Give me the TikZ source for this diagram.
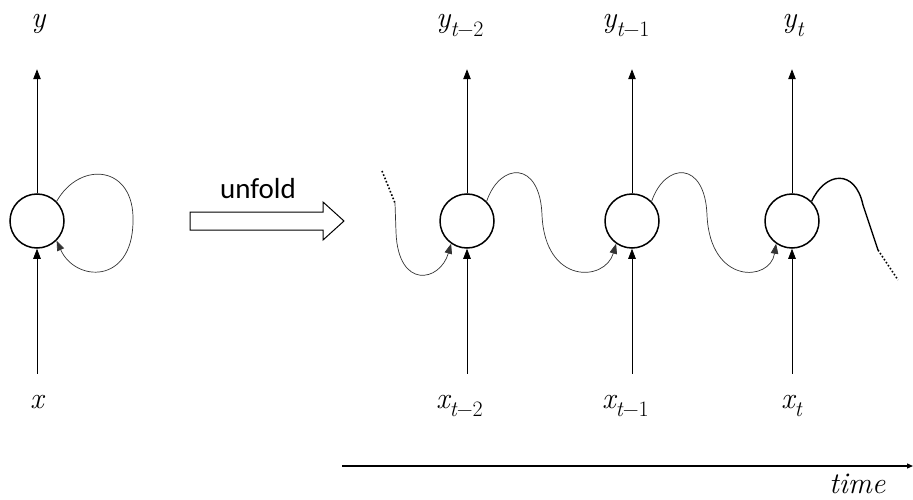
\documentclass[tikz,border=0pt]{standalone}
\usepackage{fontspec}
\newfontfamily\uifont{Carlito}
\usetikzlibrary{arrows.meta}
\newcommand\sbs[1]{\raisebox{-0.28em}{\fontsize{22}{24}\selectfont #1}}
\begin{document}
\begin{tikzpicture}[x=1pt,y=-1pt,
  cell/.style={circle,draw,line width=1.5pt,minimum size=54pt,inner sep=0pt},
  lbl/.style={font=\fontsize{30}{32}\selectfont\itshape,inner sep=0pt,anchor=base west},
  tip/.style={-{Triangle[length=10pt,width=7.5pt]}},
  wire/.style={line width=0.8pt,tip},
  wave/.style={line width=0.7pt,draw=black!80,tip}]
\useasboundingbox (0,0) rectangle (913,500);
% cells
\node[cell] (c0) at (37,221) {};
\node[cell] (c1) at (467,221) {};
\node[cell] (c2) at (632,221) {};
\node[cell] (c3) at (792,221) {};
% labels
\node[lbl] (y0) at (31,28) {y};
\node[lbl] (y1) at (436,28) {y\sbs{t\upshape −2}};
\node[lbl] (y2) at (602,28) {y\sbs{t\upshape −1}};
\node[lbl] (y3) at (782,28) {y\sbs{t}};
\node[lbl] (x0) at (30,408) {x};
\node[lbl] (x1) at (436,408) {x\sbs{t\upshape −2}};
\node[lbl] (x2) at (602,408) {x\sbs{t\upshape −1}};
\node[lbl] (x3) at (781,408) {x\sbs{t}};
% vertical arrows
\foreach \i in {0,1,2,3}{
  \coordinate (t\i) at ([yshift=124pt]c\i.north);
  \coordinate (b\i) at ([yshift=-125pt]c\i.south);
  \draw[wire] (c\i.north) -- (t\i);
  \draw[wire] (b\i) -- (c\i.south);
}
% self loop
\draw[wave] (c0.45) .. controls (80,160) and (135,165) .. (133,222)
  .. controls (132,285) and (75,282) .. (c0.-45);
% unfold arrow
\draw[line width=1pt] (190,212) -- (323,212) -- (323,202) -- (344,221) -- (323,240) -- (323,230) -- (190,230) -- cycle;
\node[font=\uifont\fontsize{29}{30}\selectfont,inner sep=0pt,anchor=base] (unf) at (258,198) {unfold};
% incoming wave
\coordinate (d0) at (382,171);
\coordinate (d1) at (395,203);
\draw[line width=1.6pt,dotted] (d0) -- (d1);
\draw[wave] (d1) -- (396,232) .. controls (398,290) and (440,282) .. (c1.-125);
% waves between cells
\draw[wave] (c1.45) .. controls (500,162) and (540,160) .. (542,215)
  .. controls (545,285) and (605,282) .. (c2.-125);
\draw[wave] (c2.45) .. controls (665,162) and (705,160) .. (707,215)
  .. controls (710,285) and (770,282) .. (c3.-125);
% outgoing wave
\coordinate (e1) at (878,250);
\coordinate (e2) at (898,280);
\draw[line width=1.4pt] (c3.45) .. controls (825,172) and (855,168) .. (863,205) -- (e1);
\draw[line width=1.6pt,dotted] (e1) -- (e2);
% time axis
\coordinate (ta) at (342,466);
\coordinate (tb) at (913,466);
\draw[line width=1.2pt,-{Triangle[length=6pt,width=5pt]}] (ta) -- (tb);
\node[lbl] (time) at (829,493) {time};
\end{tikzpicture}
\end{document}
